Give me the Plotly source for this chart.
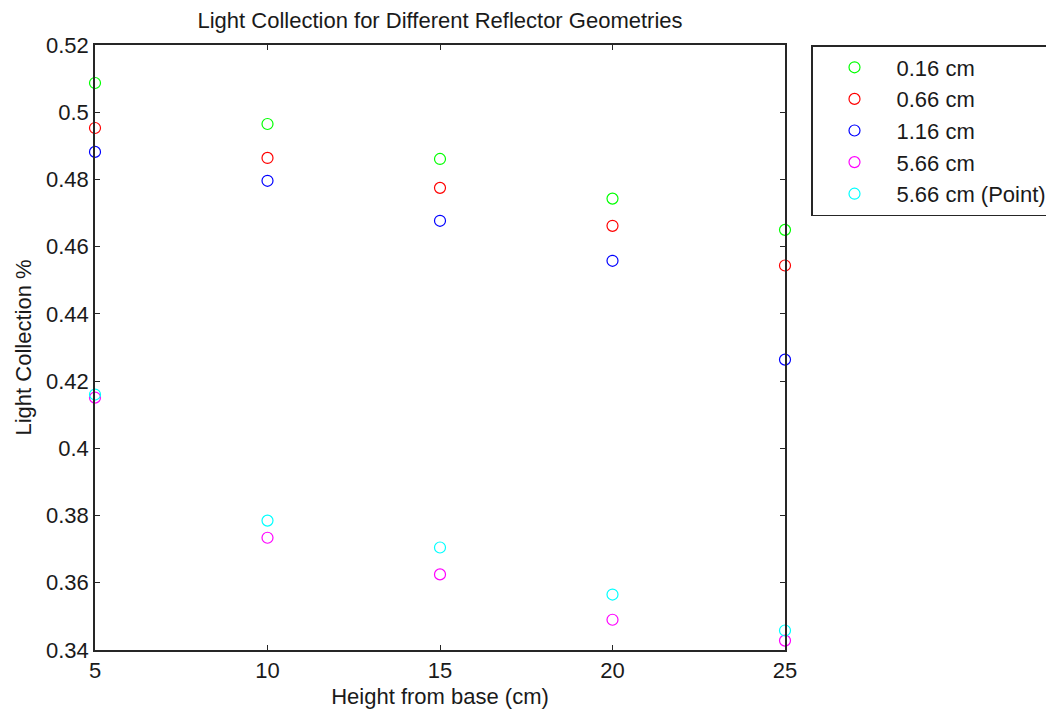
import plotly.graph_objects as go

# Height of the source above the base (cm)
heights = [5, 10, 15, 20, 25]

# Light collection for each reflector geometry
lc_016 = [0.5087, 0.4965, 0.4861, 0.4743, 0.4650]
lc_066 = [0.4953, 0.4864, 0.4775, 0.4662, 0.4544]
lc_116 = [0.4882, 0.4796, 0.4677, 0.4558, 0.4264]
lc_566 = [0.4151, 0.3734, 0.3625, 0.3490, 0.3428]
lc_566_point = [0.4160, 0.3785, 0.3705, 0.3565, 0.3458]

series_names = ["0.16 cm", "0.66 cm", "1.16 cm", "5.66 cm", "5.66 cm (Point)"]
series_values = [lc_016, lc_066, lc_116, lc_566, lc_566_point]
series_colors = ["#00ff00", "#ff0000", "#0000ff", "#ff00ff", "#00ffff"]

y_ticks = [0.34, 0.36, 0.38, 0.40, 0.42, 0.44, 0.46, 0.48, 0.50, 0.52]
y_tick_text = ["0.34", "0.36", "0.38", "0.4", "0.42", "0.44", "0.46", "0.48", "0.5", "0.52"]
x_ticks = [5, 10, 15, 20, 25]

FONT = "Liberation Sans, Arial, sans-serif"
TXT = "#1a1a1a"

fig = go.Figure()
for name, vals, col in zip(series_names, series_values, series_colors):
    fig.add_trace(go.Scatter(
        x=heights, y=vals, mode="markers", name=name,
        marker=dict(symbol="circle-open", size=11, color=col, line=dict(width=1.2, color=col)),
        cliponaxis=False,
    ))

W, H = 1046, 710
ml, mr, mt, mb = 95, 261, 45, 60
pw = W - ml - mr

fig.update_layout(
    width=W, height=H,
    margin=dict(l=ml, r=mr, t=mt, b=mb, autoexpand=False),
    paper_bgcolor="white", plot_bgcolor="white",
    font=dict(family=FONT, size=22, color=TXT),
    title=dict(text="Light Collection for Different Reflector Geometries",
               x=(ml + pw / 2) / W, xanchor="center", y=1 - 20 / H, yanchor="middle",
               font=dict(size=22, family=FONT, color=TXT)),
    xaxis=dict(range=[5, 25], tickvals=x_ticks, ticks="inside", ticklen=5,
               showline=True, linecolor="#262626", linewidth=1.5, mirror="allticks",
               showgrid=False, zeroline=False, tickcolor="#262626", automargin=False,
               tickfont=dict(size=22),
               title=dict(text="Height from base (cm)", standoff=6, font=dict(size=22))),
    yaxis=dict(range=[0.34, 0.52], tickvals=y_ticks, ticktext=y_tick_text,
               ticks="inside", ticklen=5,
               showline=True, linecolor="#262626", linewidth=1.5, mirror="allticks",
               showgrid=False, zeroline=False, tickcolor="#262626", automargin=False,
               tickfont=dict(size=22),
               title=dict(text="Light Collection %", standoff=8, font=dict(size=22))),
    legend=dict(x=(811 - ml) / pw, xanchor="left", y=1.0, yanchor="top",
                bordercolor="#262626", borderwidth=1.5, bgcolor="white",
                font=dict(size=22, family=FONT, color=TXT),
                itemwidth=74),
)

fig.write_html("out.html")
